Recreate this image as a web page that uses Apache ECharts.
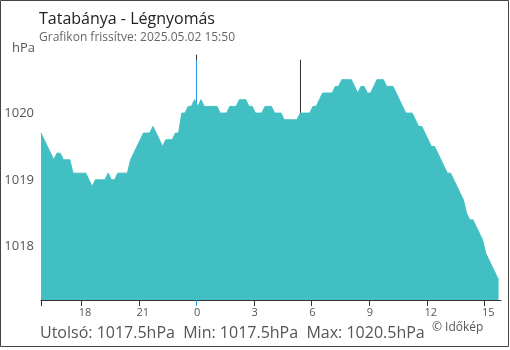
<!DOCTYPE html>
<html>
<head>
<meta charset="utf-8">
<script src="https://cdn.jsdelivr.net/npm/echarts@6/dist/echarts.min.js"></script>
<style>
  html, body { margin: 0; padding: 0; background: #fff; }
  #chart { width: 510px; height: 350px; }
</style>
</head>
<body>
<div id="chart"></div>
<script>
// 10 percenkénti légnyomás adatok, 15:54-től (előző nap) 15:44-ig
var startHour = -8 - 6 / 60
var stepHour = 10 / 60
var pressure = [
  1019.7, 1019.6, 1019.5, 1019.4, 1019.3, 1019.4, 1019.4, 1019.3, 1019.3, 1019.3,
  1019.1, 1019.1, 1019.1, 1019.1, 1019.1, 1019.0, 1018.9, 1019.0, 1019.0, 1019.0,
  1019.0, 1019.1, 1019.0, 1019.0, 1019.1, 1019.1, 1019.1, 1019.1, 1019.3, 1019.4,
  1019.5, 1019.6, 1019.7, 1019.7, 1019.7, 1019.8, 1019.7, 1019.6, 1019.5, 1019.6,
  1019.6, 1019.6, 1019.7, 1019.7, 1020.0, 1020.0, 1020.1, 1020.1, 1020.2, 1020.1,
  1020.2, 1020.1, 1020.1, 1020.1, 1020.1, 1020.1, 1020.0, 1020.0, 1020.0, 1020.1,
  1020.1, 1020.1, 1020.2, 1020.2, 1020.2, 1020.1, 1020.1, 1020.0, 1020.0, 1020.0,
  1020.1, 1020.1, 1020.1, 1020.0, 1020.0, 1020.0, 1019.9, 1019.9, 1019.9, 1019.9,
  1019.9, 1020.0, 1020.0, 1020.0, 1020.0, 1020.1, 1020.1, 1020.2, 1020.3, 1020.3,
  1020.3, 1020.3, 1020.4, 1020.4, 1020.5, 1020.5, 1020.5, 1020.5, 1020.4, 1020.3,
  1020.4, 1020.4, 1020.3, 1020.3, 1020.4, 1020.5, 1020.5, 1020.5, 1020.4, 1020.4,
  1020.4, 1020.3, 1020.2, 1020.1, 1020.0, 1020.0, 1020.0, 1019.9, 1019.8, 1019.8,
  1019.7, 1019.6, 1019.5, 1019.5, 1019.4, 1019.3, 1019.2, 1019.1, 1019.1, 1019.0,
  1018.9, 1018.8, 1018.7, 1018.5, 1018.4, 1018.4, 1018.3, 1018.2, 1018.1, 1017.9,
  1017.8, 1017.7, 1017.6, 1017.5
]
var xTickHours = [-6, -3, 0, 3, 6, 9, 12, 15] // 18, 21, 0, 3 ... óra
var yTickValues = [1018, 1019, 1020]
var midnightHour = 0
var sunriseHour = 5 + 25 / 60
var markerTop = 1020.8

var yMin = 1017.2
var yMax = 1020.87
var xMin = startHour
var xMax = startHour + 23.96

var fontFamily = '"Open Sans", "Noto Sans", sans-serif'
var seriesData = pressure.map(function(v, i) {
  return [startHour + i * stepHour, v]
})
var last = pressure[pressure.length - 1]
var min = Math.min.apply(null, pressure)
var max = Math.max.apply(null, pressure)

// függőleges jelölő vonal (éjfél, napkelte)
function markerSeries(hour, color) {
  return {
    type: 'line',
    data: [[hour, yMin], [hour, markerTop]],
    z: 1,
    silent: true,
    symbol: 'none',
    lineStyle: { color: color, width: 1, type: 'solid' },
    emphasis: { disabled: true }
  }
}

var chart = echarts.init(document.getElementById('chart'))
chart.setOption({
  animation: false,
  backgroundColor: '#fff',
  textStyle: { fontFamily: fontFamily },
  title: {
    left: 34,
    top: 6,
    text: 'Tatabánya - Légnyomás',
    textStyle: { fontSize: 16, fontWeight: 'normal', color: '#222', fontFamily: fontFamily },
    subtext: 'Grafikon frissítve: 2025.05.02 15:50',
    subtextStyle: { fontSize: 12, color: '#666', fontFamily: fontFamily },
    itemGap: 5
  },
  grid: { left: 41, right: 9, top: 55, bottom: 50, containLabel: false, outerBoundsMode: 'none' },
  xAxis: [{
    type: 'value',
    min: xMin,
    max: xMax,
    axisLine: { show: true, lineStyle: { color: '#333', width: 1 } },
    axisTick: {
      show: true,
      length: 6,
      customValues: [xMin].concat(xTickHours.filter(function(h) { return h !== midnightHour })),
      lineStyle: { color: '#333' }
    },
    axisLabel: {
      show: true,
      customValues: xTickHours.map(function(h) { return h - 0.13 }),
      align: 'left',
      margin: 7,
      fontSize: 11,
      color: '#555',
      fontFamily: fontFamily,
      formatter: function(v) {
        var h = Math.round(v)
        return String(((h % 24) + 24) % 24)
      }
    },
    splitLine: { show: false }
  }, {
    // kék jelölő éjfélkor
    type: 'value',
    min: xMin,
    max: xMax,
    position: 'bottom',
    axisLine: { show: false },
    axisTick: { show: true, length: 6, customValues: [midnightHour], lineStyle: { color: '#2a95dc' } },
    axisLabel: { show: false },
    splitLine: { show: false }
  }],
  yAxis: [{
    type: 'value',
    min: yMin,
    max: yMax,
    axisLine: { show: true, lineStyle: { color: '#333', width: 1 } },
    axisTick: {
      show: true,
      length: 6,
      customValues: [yMin].concat(yTickValues),
      lineStyle: { color: '#333' }
    },
    axisLabel: {
      customValues: yTickValues,
      margin: 7,
      fontSize: 13,
      color: '#555',
      fontFamily: fontFamily,
      formatter: function(v) { return String(Math.round(v)) }
    },
    splitLine: { show: false }
  }, {
    type: 'value',
    min: yMin,
    max: yMax,
    position: 'left',
    axisLine: { show: false },
    axisTick: { show: true, inside: true, length: 5, customValues: yTickValues, lineStyle: { color: '#333' } },
    axisLabel: { show: false },
    splitLine: { show: false }
  }],
  graphic: [{
    type: 'rect',
    shape: { x: 0.5, y: 0.5, width: 508, height: 346 },
    style: { fill: null, stroke: '#444', lineWidth: 1 },
    silent: true
  }, {
    type: 'text',
    left: 12,
    top: 42,
    style: { text: 'hPa', font: '13px ' + fontFamily, fill: '#555' }
  }, {
    type: 'text',
    left: 40,
    top: 325,
    style: {
      text: 'Utolsó: ' + last.toFixed(1) + 'hPa  Min: ' + min.toFixed(1) + 'hPa  Max: ' + max.toFixed(1) + 'hPa',
      font: '16px ' + fontFamily,
      fill: '#555'
    }
  }, {
    type: 'text',
    left: 432,
    top: 322,
    style: { text: '© Időkép', font: '12px ' + fontFamily, fill: '#555' }
  }],
  series: [
    markerSeries(midnightHour, '#2a95dc'),
    markerSeries(sunriseHour, '#333'),
    {
      name: 'Légnyomás',
      type: 'line',
      z: 2,
      data: seriesData,
      symbol: 'none',
      smooth: false,
      lineStyle: { width: 1, color: '#41bfc2' },
      areaStyle: { color: '#41bfc2', opacity: 1, origin: 'start' }
    }
  ]
})
</script>
</body>
</html>
